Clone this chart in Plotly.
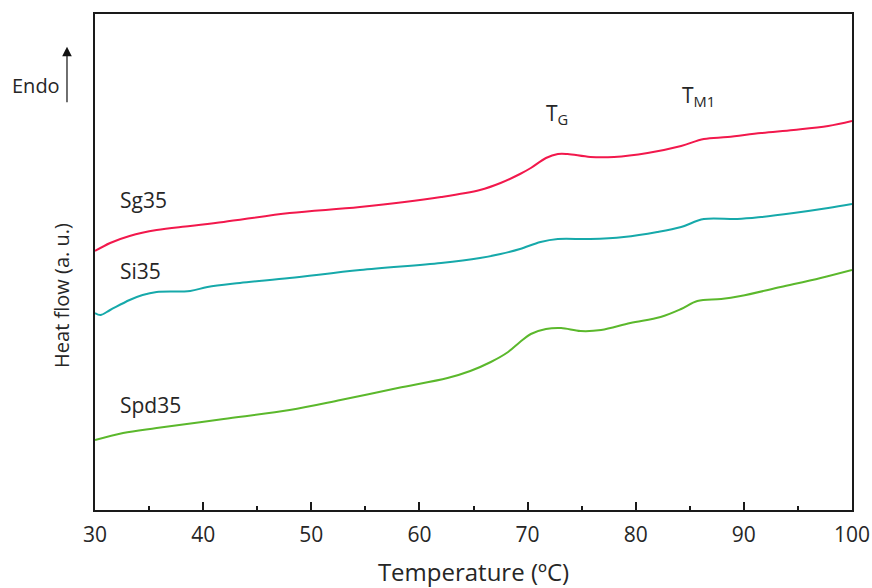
import plotly.graph_objects as go

# DSC traces (heat flow in arbitrary units, endo up)
sg35_temp = [30.0, 31.4, 33.2, 35.7, 38.8, 41.9, 48.0, 54.5, 62.0, 65.6, 67.5, 69.3,
             70.3, 71.7, 72.8, 73.7, 75.8, 78.0, 81.1, 84.2, 86.3, 88.5, 91.6, 94.6, 97.8, 100.0]
sg35_flow = [259, 267, 274, 280, 284, 288, 297, 303, 313, 320, 327, 336,
             342, 352, 356, 356, 353, 353, 357, 364, 371, 373, 377, 380, 384, 389]

si35_temp = [30.0, 30.5, 31.4, 33.2, 34.4, 35.7, 38.8, 40.4, 43.4, 48.0, 54.5, 62.0, 65.6,
             67.5, 69.3, 71.2, 72.8, 75.8, 78.9, 82.0, 84.2, 86.3, 89.4, 91.6, 94.6, 97.8, 100.0]
si35_flow = [197, 195, 200, 210, 215, 218, 219, 223, 227, 232, 240, 247, 252,
             256, 261, 268, 271, 271, 273, 278, 283, 291, 291, 293, 297, 302, 306]

spd35_temp = [30.0, 32.6, 35.7, 41.9, 48.0, 52.7, 58.0, 62.6, 64.7, 66.6, 68.2, 69.3, 70.3,
              71.7, 73.1, 74.9, 76.8, 79.5, 82.3, 84.2, 85.7, 87.9, 89.7, 93.4, 97.1, 100.0]
spd35_flow = [70, 77, 82, 91, 100, 110, 122, 132, 139, 148, 158, 168, 176,
              181, 182, 179, 180, 187, 193, 201, 209, 211, 214, 223, 232, 240]

x_ticks = [30, 40, 50, 60, 70, 80, 90, 100]

FONT = "Open Sans, Noto Sans, sans-serif"
TEXT = "#262626"

fig = go.Figure()
for t, f, color in [
    (sg35_temp, sg35_flow, "#F2184C"),
    (si35_temp, si35_flow, "#16A9AA"),
    (spd35_temp, spd35_flow, "#5BB82C"),
]:
    fig.add_trace(go.Scatter(x=t, y=f, mode="lines",
                             line=dict(color=color, width=2, shape="spline", smoothing=1.0),
                             showlegend=False, hoverinfo="skip"))

# Series labels
for name, yv in [("Sg35", 310), ("Si35", 239), ("Spd35", 105)]:
    fig.add_annotation(x=32.1, y=yv, xref="x", yref="y", text=name, showarrow=False,
                       xanchor="left", yanchor="middle",
                       font=dict(family=FONT, size=21, color=TEXT))

# Transition markers
fig.add_annotation(x=72.7, y=396, xref="x", yref="y", text="T<sub>G</sub>", showarrow=False,
                   xanchor="center", yanchor="middle", font=dict(family=FONT, size=21, color=TEXT))
fig.add_annotation(x=85.8, y=414, xref="x", yref="y", text="T<sub>M1</sub>", showarrow=False,
                   xanchor="center", yanchor="middle", font=dict(family=FONT, size=21, color=TEXT))

# Endo direction arrow
fig.add_annotation(x=-0.037, y=0.934, xref="paper", yref="paper", text=" ",
                   showarrow=True, ax=0, ay=71, arrowhead=2, arrowsize=1.6,
                   arrowwidth=1.2, arrowcolor="#111111")
fig.add_annotation(x=-0.044, y=0.855, xref="paper", yref="paper", text="Endo",
                   showarrow=False, xanchor="right", yanchor="middle",
                   font=dict(family=FONT, size=20, color=TEXT))

# Y axis title
fig.add_annotation(x=-0.044, y=0.433, xref="paper", yref="paper", text="Heat flow (a. u.)",
                   showarrow=False, textangle=-90, xanchor="center", yanchor="middle",
                   font=dict(family=FONT, size=20, color=TEXT))

fig.update_layout(
    width=872, height=588,
    margin=dict(l=95, r=20, t=14, b=78, autoexpand=False),
    plot_bgcolor="white", paper_bgcolor="white",
    font=dict(family=FONT, size=21, color=TEXT),
)
fig.update_xaxes(
    range=[30, 100], tickvals=x_ticks, ticktext=[str(v) for v in x_ticks],
    ticks="inside", ticklen=8, tickwidth=2, tickcolor="#1a1a1a",
    minor=dict(dtick=5, tick0=30, ticks="inside", ticklen=4, tickwidth=2, tickcolor="#1a1a1a"),
    showline=True, linecolor="#1a1a1a", linewidth=2, mirror=True,
    showgrid=False, zeroline=False, automargin=False,
    ticklabelstandoff=5,
    tickfont=dict(family=FONT, size=21, color=TEXT),
    title=dict(text="Temperature (ºC)", standoff=22, font=dict(family=FONT, size=24, color=TEXT)),
)
fig.update_yaxes(
    range=[0, 496], showticklabels=False, ticks="",
    showline=True, linecolor="#1a1a1a", linewidth=2, mirror=True,
    showgrid=False, zeroline=False, automargin=False,
)

fig.write_html("out.html")
